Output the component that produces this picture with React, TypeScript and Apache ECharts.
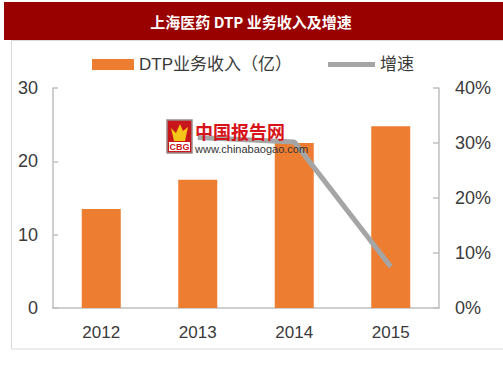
import React, { useEffect, useRef } from "react";
import * as echarts from "echarts";

const categories = ["2012", "2013", "2014", "2015"];
const revenue = [13.5, 17.5, 22.5, 24.8];
const growth: (number | null)[] = [null, 31, 30.2, 7.5];
const leftTicks = { min: 0, max: 30, interval: 10 };
const rightTicks = { min: 0, max: 40, interval: 10 };
const titleText = "上海医药 DTP 业务收入及增速";
const barName = "DTP业务收入（亿）";
const lineName = "增速";

const FONT = '"Liberation Sans", Arial, "Noto Sans CJK SC", sans-serif';

export default function App() {
  const ref = useRef<HTMLDivElement>(null);
  useEffect(() => {
    if (!ref.current) return;
    const chart = echarts.init(ref.current, null, { renderer: "svg" });
    chart.setOption({
      animation: false,
      backgroundColor: "#ffffff",
      textStyle: { fontFamily: FONT },
      grid: { left: 53, right: 64, top: 88, bottom: 70 },
      legend: [
        {
          data: [{ name: barName, icon: "rect" }],
          left: 92,
          top: 56,
          padding: 0,
          itemWidth: 42,
          itemHeight: 11,
          itemGap: 6,
          textStyle: { fontSize: 17, color: "#3a3a3a", fontFamily: FONT },
        },
        {
          data: [{ name: lineName, icon: "rect" }],
          left: 328,
          top: 56,
          padding: 0,
          itemWidth: 47,
          itemHeight: 5,
          textStyle: { fontSize: 17, color: "#3a3a3a", fontFamily: FONT },
        },
      ],
      xAxis: {
        type: "category",
        data: categories,
        axisLine: { lineStyle: { color: "#bfbfbf", width: 1.5 } },
        axisTick: { show: false },
        axisLabel: { fontSize: 17, color: "#3a3a3a", margin: 16, fontFamily: FONT },
      },
      yAxis: [
        {
          type: "value",
          min: leftTicks.min,
          max: leftTicks.max,
          interval: leftTicks.interval,
          axisLine: { show: true, lineStyle: { color: "#bfbfbf", width: 1.5 } },
          axisTick: { show: true, inside: true, length: 5, lineStyle: { color: "#bfbfbf", width: 1.5 } },
          splitLine: { show: false },
          axisLabel: { fontSize: 18, color: "#3a3a3a", margin: 15, fontFamily: FONT },
        },
        {
          type: "value",
          min: rightTicks.min,
          max: rightTicks.max,
          interval: rightTicks.interval,
          position: "right",
          axisLine: { show: true, lineStyle: { color: "#bfbfbf", width: 1.5 } },
          axisTick: { show: true, inside: true, length: 6, lineStyle: { color: "#bfbfbf", width: 1.5 } },
          splitLine: { show: false },
          axisLabel: { fontSize: 18, color: "#3a3a3a", margin: 16, formatter: "{value}%", fontFamily: FONT },
        },
      ],
      series: [
        {
          name: barName,
          type: "bar",
          data: revenue,
          barWidth: 39,
          itemStyle: { color: "#ed7d31" },
          z: 2,
        },
        {
          name: lineName,
          type: "line",
          yAxisIndex: 1,
          data: growth,
          showSymbol: false,
          symbol: "none",
          lineStyle: { color: "#a5a5a5", width: 5 },
          itemStyle: { color: "#a5a5a5" },
          z: 3,
        },
      ],
      graphic: [
        {
          type: "rect",
          z: 0,
          silent: true,
          shape: { x: 11.5, y: 40.5, width: 495, height: 308.5 },
          style: { fill: "none", stroke: "#d9d9d9", lineWidth: 1 },
        },
        {
          type: "rect",
          z: 10,
          shape: { x: 4, y: 2, width: 499, height: 38 },
          style: { fill: "#990000" },
        },
        {
          type: "text",
          z: 11,
          x: 251,
          y: 21,
          style: {
            text: titleText,
            fill: "#ffffff",
            fontSize: 15,
            fontWeight: "bold",
            fontFamily: '"Noto Sans CJK SC", sans-serif',
            align: "center",
            verticalAlign: "middle",
          },
        },
        {
          type: "group",
          z: 50,
          children: [
            {
              type: "rect",
              z: 50,
              shape: { x: 167, y: 120, width: 25, height: 33 },
              style: { fill: "#c8161d", stroke: "#9a8a8a", lineWidth: 1.5 },
            },
            {
              type: "polygon",
              z: 51,
              shape: { points: [[171, 128], [176, 133], [180, 124], [183, 131], [188, 127], [185, 141], [174, 141]] },
              style: { fill: "#f5c518" },
            },
            {
              type: "rect",
              z: 51,
              shape: { x: 169, y: 142, width: 21, height: 9 },
              style: { fill: "#ffffff" },
            },
            {
              type: "text",
              z: 52,
              x: 179.5,
              y: 146.5,
              style: {
                text: "CBG",
                fill: "#c8161d",
                fontSize: 9,
                fontWeight: "bold",
                fontFamily: FONT,
                align: "center",
                verticalAlign: "middle",
              },
            },
            {
              type: "text",
              z: 52,
              x: 195,
              y: 131,
              style: {
                text: "中国报告网",
                fill: "#d7141a",
                fontSize: 18,
                fontWeight: "bold",
                fontFamily: '"Noto Sans CJK SC", sans-serif',
                align: "left",
                verticalAlign: "middle",
              },
            },
            {
              type: "text",
              z: 52,
              x: 195,
              y: 149,
              style: {
                text: "www.chinabaogao.com",
                fill: "#333333",
                fontSize: 11,
                fontFamily: FONT,
                align: "left",
                verticalAlign: "middle",
              },
            },
          ],
        },
      ],
    });
    return () => chart.dispose();
  }, []);
  return (
    <div
      ref={ref}
      style={{ position: "fixed", left: 0, top: 0, width: 503, height: 378 }}
    />
  );
}
